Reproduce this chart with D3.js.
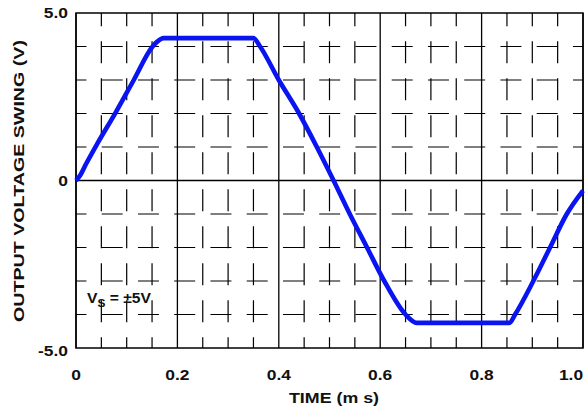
<!DOCTYPE html>
<html>
<head>
<meta charset="utf-8">
<script src="https://cdn.jsdelivr.net/npm/d3@7"></script>
<style>
  body { margin: 0; background: #fff; }
  text { font-family: "Liberation Sans", Arial, sans-serif; font-weight: bold; fill: #111; }
</style>
</head>
<body>
<div id="chart"></div>
<script>
// output swing vs time
const timeMs = [0, 0.008, 0.02, 0.042, 0.079, 0.114, 0.151, 0.165, 0.172,
                0.35, 0.363, 0.400, 0.440, 0.475, 0.508, 0.540, 0.574, 0.608, 0.650, 0.672,
                0.855, 0.866, 0.902, 0.935, 0.968, 1.0];
const voltage = [0, 0.15, 0.5, 1.1, 2.05, 3.0, 4.0, 4.2, 4.25,
                 4.25, 4.0, 3.0, 2.0, 1.0, 0, -1.0, -2.0, -3.0, -4.0, -4.25,
                 -4.25, -4.0, -3.0, -2.0, -1.0, -0.3];

const xTicks = [0, 0.2, 0.4, 0.6, 0.8, 1.0];
const xTickLabels = ["0", "0.2", "0.4", "0.6", "0.8", "1.0"];
const yTicks = [-5, 0, 5];
const yTickLabels = ["-5.0", "0", "5.0"];
const xMinor = d3.range(1, 20).map(i => i * 0.05).filter(v => Math.abs(v / 0.2 - Math.round(v / 0.2)) > 1e-6);
const yMinor = [-4, -3, -2, -1, 1, 2, 3, 4];

const W = 586, H = 412;
const margin = {left: 76, top: 13, right: 3, bottom: 64};
const w = W - margin.left - margin.right;
const h = H - margin.top - margin.bottom;
const stretch = 1.2; // the original lettering is a bit wide

const x = d3.scaleLinear().domain([0, 1]).range([0, w]);
const y = d3.scaleLinear().domain([-5, 5]).range([h, 0]);

const svg = d3.select("#chart").append("svg")
    .attr("width", W).attr("height", H);
const g = svg.append("g").attr("transform", `translate(${margin.left},${margin.top})`);

// broken minor grid
g.selectAll(".vminor").data(xMinor).enter().append("line")
    .attr("x1", d => x(d)).attr("x2", d => x(d))
    .attr("y1", 0).attr("y2", h)
    .attr("stroke", "#000").attr("stroke-width", 1.2)
    .attr("stroke-dasharray", "22,15").attr("stroke-dashoffset", 8.7);

g.selectAll(".hminor").data(yMinor).enter().append("line")
    .attr("x1", 0).attr("x2", w)
    .attr("y1", d => y(d)).attr("y2", d => y(d))
    .attr("stroke", "#000").attr("stroke-width", 1.2)
    .attr("stroke-dasharray", "21,15.25").attr("stroke-dashoffset", 10.55);

// major grid
g.selectAll(".vmajor").data(xTicks).enter().append("line")
    .attr("x1", d => x(d)).attr("x2", d => x(d))
    .attr("y1", 0).attr("y2", h)
    .attr("stroke", "#000").attr("stroke-width", 1.3);

g.append("line")
    .attr("x1", 0).attr("x2", w)
    .attr("y1", y(0)).attr("y2", y(0))
    .attr("stroke", "#000").attr("stroke-width", 1.3);

g.append("rect")
    .attr("width", w).attr("height", h)
    .attr("fill", "none").attr("stroke", "#000").attr("stroke-width", 1.5);

// trace
const line = d3.line().x((d, i) => x(timeMs[i])).y(d => y(d)).curve(d3.curveMonotoneX);
g.append("path")
    .datum(voltage)
    .attr("d", line)
    .attr("fill", "none")
    .attr("stroke", "#0a14f0")
    .attr("stroke-width", 4.6)
    .attr("stroke-linejoin", "round");

// tick labels
g.selectAll(".xlab").data(xTicks).enter().append("text")
    .attr("transform", d => `translate(${x(d) + (d === 1 ? -12 : 0)},${h + 32}) scale(${stretch},1)`)
    .attr("text-anchor", "middle")
    .style("font-size", "14.5px")
    .text((d, i) => xTickLabels[i]);

g.selectAll(".ylab").data(yTicks).enter().append("text")
    .attr("transform", d => `translate(-8,${y(d) + (d === -5 ? 8 : 5)}) scale(${stretch},1)`)
    .attr("text-anchor", "end")
    .style("font-size", "14.5px")
    .text((d, i) => yTickLabels[i]);

// axis titles
svg.append("text")
    .attr("x", 289)
    .attr("y", 403)
    .attr("textLength", 90)
    .attr("lengthAdjust", "spacingAndGlyphs")
    .style("font-size", "14.5px")
    .text("TIME (m s)");

svg.append("text")
    .attr("transform", `translate(24,322) rotate(-90)`)
    .attr("textLength", 282)
    .attr("lengthAdjust", "spacingAndGlyphs")
    .style("font-size", "15px")
    .text("OUTPUT VOLTAGE SWING (V)");

// supply annotation
const ann = g.append("text")
    .attr("transform", `translate(11,290) scale(1.08,1)`)
    .style("font-size", "14.5px");
ann.append("tspan").text("V");
ann.append("tspan").attr("dy", 4).style("font-size", "11px").text("S");
ann.append("tspan").attr("dy", -4).text(" = ±5V");
</script>
</body>
</html>
